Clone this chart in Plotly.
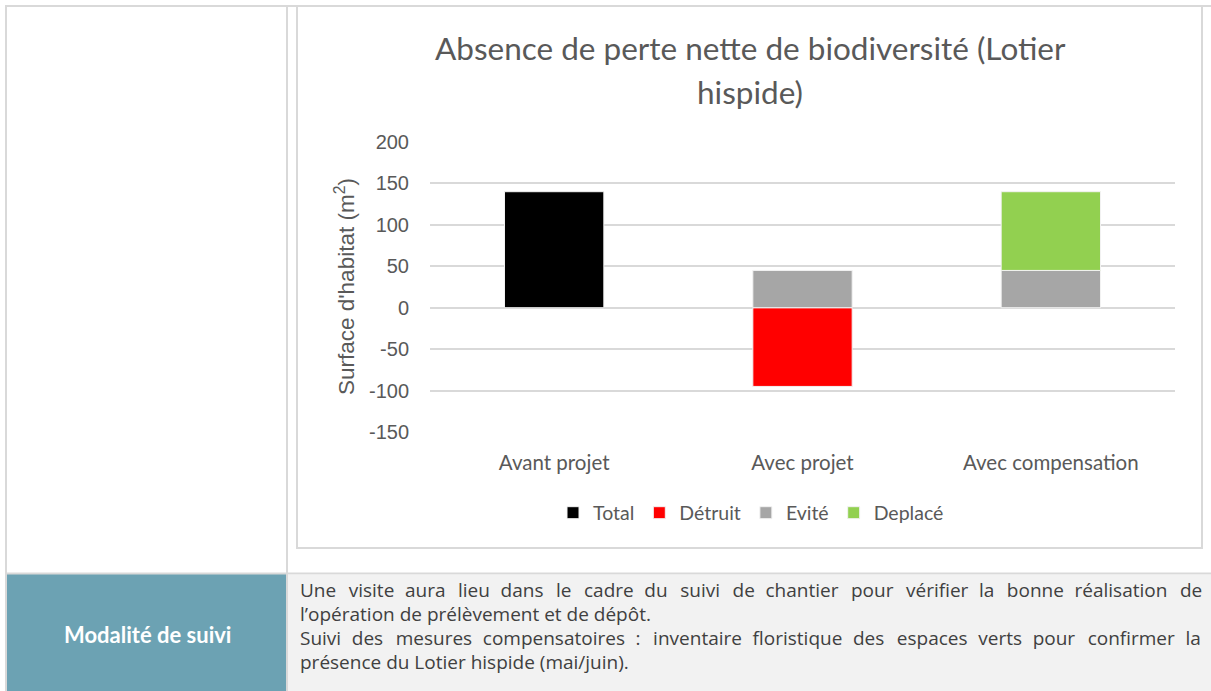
import plotly.graph_objects as go

# Chart data
categories = ["Avant projet", "Avec projet", "Avec compensation"]
total = [140, None, None]
detruit = [None, -95, None]
evite = [None, 45, 45]
deplace = [None, None, 95]

y_ticks = [-150, -100, -50, 0, 50, 100, 150, 200]
y_tick_labels = [str(v) for v in y_ticks]

W, H = 1211, 691


def px(x):
    return x / W


def py(y):
    return 1 - y / H


GRID = "#d9d9d9"
TXT = "#595959"
LABEL_FONT = "Lato, Roboto, sans-serif"
NUM_FONT = "Liberation Sans, Arial, sans-serif"
BODY_FONT = "Open Sans, Lato, sans-serif"

fig = go.Figure()

series = [
    ("Total", total, "#000000"),
    ("Détruit", detruit, "#ff0000"),
    ("Evité", evite, "#a6a6a6"),
    ("Deplacé", deplace, "#92d050"),
]
for name, vals, color in series:
    fig.add_trace(go.Bar(
        name=name, x=categories, y=vals,
        marker=dict(color=color, line=dict(color="#f2f2f2", width=1)),
        hoverinfo="x+y+name",
    ))

shapes = []
# Table cell backgrounds
shapes.append(dict(type="rect", xref="paper", yref="paper",
                   x0=px(6), x1=px(287), y0=py(691), y1=py(574),
                   fillcolor="#6ca2b3", line=dict(width=0), layer="below"))
shapes.append(dict(type="rect", xref="paper", yref="paper",
                   x0=px(288), x1=px(1211), y0=py(691), y1=py(575),
                   fillcolor="#f2f2f2", line=dict(width=0), layer="below"))
# Table borders
for (x0, y0, x1, y1) in [
    (5, 6, 1211, 6),          # top border
    (6, 6, 6, 691),           # left border
    (287, 6, 287, 691),       # column divider
    (6, 573.5, 1211, 573.5),  # row divider
]:
    shapes.append(dict(type="line", xref="paper", yref="paper",
                       x0=px(x0), x1=px(x1), y0=py(y0), y1=py(y1),
                       line=dict(color=GRID, width=2), layer="below"))
# Chart frame
shapes.append(dict(type="rect", xref="paper", yref="paper",
                   x0=px(297), x1=px(1202), y0=py(548), y1=py(6),
                   line=dict(color=GRID, width=2), layer="below"))

annotations = []
# Chart title (two lines)
for text, yc in [("Absence de perte nette de biodiversité (Lotier", 48),
                 ("hispide)", 92)]:
    annotations.append(dict(
        xref="paper", yref="paper", x=px(750), y=py(yc), showarrow=False,
        text=text, font=dict(family=LABEL_FONT, size=31.5, color=TXT),
        xanchor="center", yanchor="middle"))
# Y axis title
annotations.append(dict(
    xref="paper", yref="paper", x=px(345), y=py(287), showarrow=False,
    text="Surface d'habitat (m<sup>2</sup>)", textangle=-90,
    font=dict(family=NUM_FONT, size=22.5, color=TXT),
    xanchor="center", yanchor="middle"))
# Table text
annotations.append(dict(
    xref="paper", yref="paper", x=px(147), y=py(634), showarrow=False,
    text="<b>Modalité de suivi</b>",
    font=dict(family=LABEL_FONT, size=22, color="#ffffff"),
    xanchor="center", yanchor="middle"))

HAIR = "\u200a"


def justify(line, extra):
    # spread `extra` hair spaces evenly over the word gaps
    words = line.split(" ")
    gaps = len(words) - 1
    out = words[0]
    given = 0
    for k in range(1, len(words)):
        target = round(extra * k / gaps)
        out += " " + HAIR * (target - given) + words[k]
        given = target
    return out


body_lines = [
    ("Une visite aura lieu dans le cadre du suivi de chantier pour vérifier la bonne réalisation de", 58),
    ("l’opération de prélèvement et de dépôt.", 0),
    ("Suivi des mesures compensatoires : inventaire floristique des espaces verts pour confirmer la", 40),
    ("présence du Lotier hispide (mai/juin).", 0),
]
for i, (line, extra) in enumerate(body_lines):
    annotations.append(dict(
        xref="paper", yref="paper", x=px(298), y=py(590 + i * 24),
        showarrow=False, text=justify(line, extra),
        font=dict(family=BODY_FONT, size=19, color="#404040"),
        xanchor="left", yanchor="middle"))

fig.update_layout(
    width=W, height=H,
    margin=dict(l=0, r=0, t=0, b=0, pad=0, autoexpand=False),
    paper_bgcolor="#ffffff", plot_bgcolor="#ffffff",
    barmode="relative", bargap=0.6,
    shapes=shapes, annotations=annotations,
    showlegend=True,
    legend=dict(orientation="h", x=px(751), y=py(513),
                xanchor="center", yanchor="middle",
                font=dict(family=LABEL_FONT, size=19.5, color=TXT),
                itemwidth=30, traceorder="normal",
                bgcolor="rgba(0,0,0,0)"),
    xaxis=dict(domain=[px(430), px(1175)], showgrid=False, zeroline=False,
               showline=False, ticks="", automargin=False,
               tickfont=dict(family=LABEL_FONT, size=20.5, color=TXT),
               ticklabelstandoff=16),
    yaxis=dict(domain=[py(432), py(142)], range=[-150, 200],
               tickvals=y_ticks, ticktext=y_tick_labels, automargin=False,
               showgrid=True, gridcolor=GRID, gridwidth=1.5,
               zeroline=True, zerolinecolor=GRID, zerolinewidth=1.5,
               showline=False, ticks="",
               tickfont=dict(family=NUM_FONT, size=20, color=TXT),
               ticklabelstandoff=20),
)

fig.write_html("out.html", post_script="document.body.style.margin='0';")
